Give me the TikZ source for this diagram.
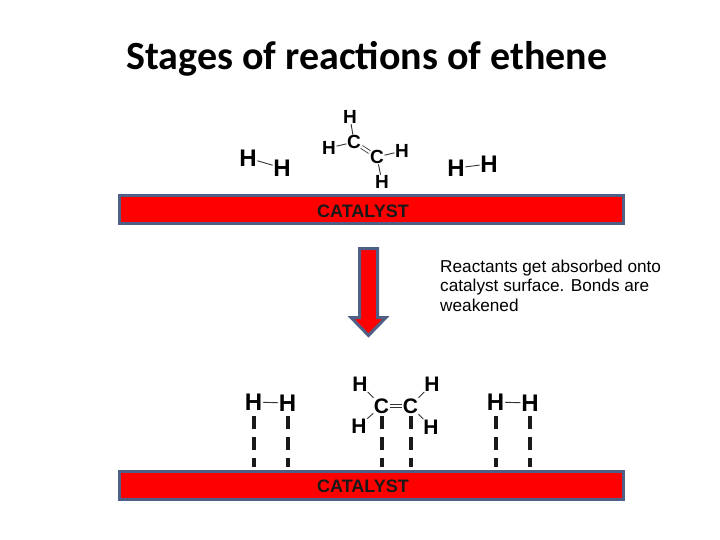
\documentclass[tikz,border=0pt]{standalone}
\usepackage{fontspec}
\setmainfont{Liberation Sans}
\newfontfamily\titlefont{Carlito}
\usetikzlibrary{positioning}
\definecolor{barblue}{RGB}{79,96,135}
\tikzset{
  atom/.style={inner sep=0.5pt, font=\fontsize{24}{24}\selectfont\bfseries, text=black},
  atommid/.style={inner sep=0.5pt, font=\fontsize{21}{21}\selectfont\bfseries, text=black},
  atomsmall/.style={inner sep=0.5pt, font=\fontsize{19}{19}\selectfont\bfseries, text=black},
  bond/.style={line width=0.9pt, black!80},
  dbond/.style={line width=0.8pt, black!80, double, double distance=2.4pt},
  surfbond/.style={line width=4pt, black!90, dash pattern=on 12.5pt off 8.5pt, shorten >=3pt},
  catbar/.style={draw=barblue, fill=red, line width=3pt, minimum width=504pt, minimum height=28pt, inner sep=0pt},
  catlabel/.style={inner sep=0pt, font=\fontsize{18}{18}\selectfont\bfseries, text=black!90}
}
\begin{document}
\begin{tikzpicture}[x=1pt, y=-1pt]
\useasboundingbox (0,0) rectangle (720,540);

\node [inner sep=0pt, font=\titlefont\fontsize{40}{40}\selectfont\bfseries] (title) at (367,59) {Stages of reactions of ethene};

% top: adsorbed on the surface
\node [catbar] (topbar) at (371.5,210) {};
\node [catlabel] (toplabel) at (363,211) {CATALYST};

\node [atom] (ha) at (248,158) {H};
\node [atom] (hb) at (282,168) {H};
\draw [bond] (ha) -- (hb);
\node [atom] (hc) at (456,168) {H};
\node [atom] (hd) at (489,164) {H};
\draw [bond] (hc) -- (hd);

\node [atomsmall] (ca) at (354,142) {C};
\node [atomsmall] (cb) at (377,157) {C};
\node [atomsmall] (he) at (350,117) {H};
\node [atomsmall] (hf) at (329,148) {H};
\node [atomsmall] (hg) at (402,151) {H};
\node [atomsmall] (hh) at (382,182) {H};
\draw [dbond] (ca) -- (cb);
\foreach \a/\b in {ca/he, ca/hf, cb/hg, cb/hh}
  \draw [bond] (\a) -- (\b);

% middle
\draw [draw=barblue, fill=red, line width=3pt, line join=miter] (359.5,248.5) -- (377.5,248.5) -- (377.5,317.5) -- (386,317.5) -- (368.5,335.5) -- (351,317.5) -- (359.5,317.5) -- cycle;
\node [align=left, anchor=north west, inner sep=0pt, font=\fontsize{17.2}{19.6}\selectfont] (note) at (440,259.5) {Reactants get absorbed onto\\catalyst surface. Bonds are\\weakened};

% bottom: on the catalyst
\node [catbar] (lowbar) at (371.5,485) {};
\node [catlabel] (lowlabel) at (363,486) {CATALYST};

\node [atom] (hi) at (253.5,402) {H};
\node [atom] (hj) at (287.5,403) {H};
\draw [bond] (hi) -- (hj);
\node [atom] (hk) at (495.5,402) {H};
\node [atom] (hl) at (530,403) {H};
\draw [bond] (hk) -- (hl);

\node [atommid] (cc) at (381.5,406) {C};
\node [atommid] (cd) at (410.5,406) {C};
\node [atommid] (hm) at (360,384) {H};
\node [atommid] (hn) at (432,384) {H};
\node [atommid] (ho) at (359,426) {H};
\node [atommid] (hp) at (431,427) {H};
\draw [dbond] (cc) -- (cd);
\foreach \a/\b in {cc/hm, cc/ho, cd/hn, cd/hp}
  \draw [bond] (\a) -- (\b);

\foreach \n in {hi,hj,cc,cd,hk,hl}
  \draw [surfbond] (\n |- 0,416) -- (\n |- lowbar.north);
\end{tikzpicture}
\end{document}
